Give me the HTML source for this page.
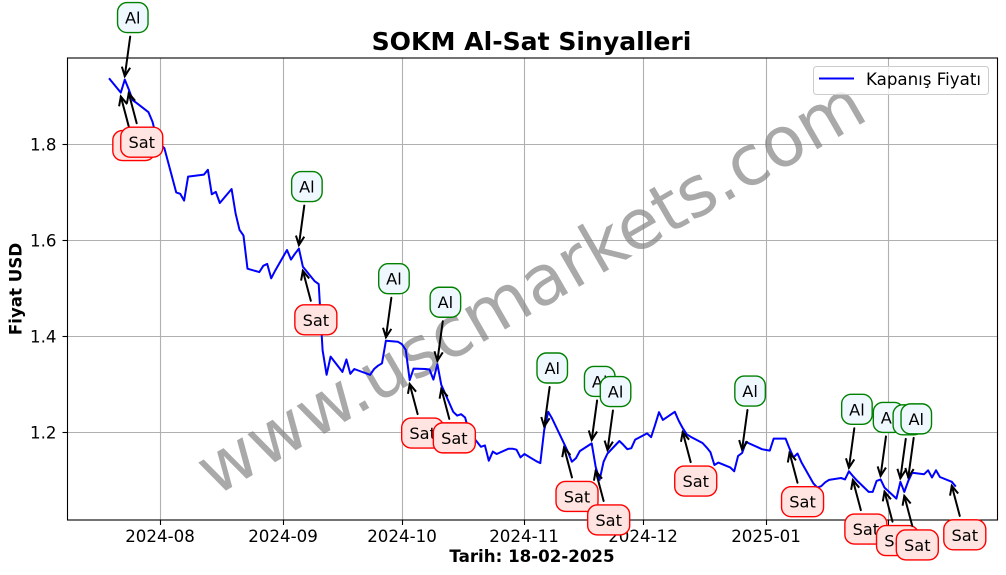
<!DOCTYPE html>
<html lang="tr">
<head>
<meta charset="utf-8">
<title>SOKM Al-Sat Sinyalleri</title>
<style>
html,body{margin:0;padding:0;background:#fff;width:1006px;height:575px;overflow:hidden}
svg{display:block;font-family:"DejaVu Sans","Liberation Sans",sans-serif}
</style>
</head>
<body>
<svg id="chart" width="1006" height="575" viewBox="0 0 1006 575" xmlns="http://www.w3.org/2000/svg">
  <rect x="0" y="0" width="1006" height="575" fill="#fff"/>
  <g id="grid"></g>
  <text x="530.5" y="311" transform="rotate(-30 530.5 287)" text-anchor="middle" font-size="69.4" fill="#808080" fill-opacity="0.68">www.uscmarkets.com</text>
  <polyline id="price-line" fill="none" stroke="#0000ff" stroke-width="2" stroke-linejoin="round"/>
  <g id="axes"></g>
  <text x="531.5" y="50" text-anchor="middle" font-size="25.1" font-weight="700" fill="#000">SOKM Al-Sat Sinyalleri</text>
  <text x="532" y="562" text-anchor="middle" font-size="16.67" font-weight="700" fill="#000">Tarih: 18-02-2025</text>
  <text transform="translate(21.5 289) rotate(-90)" text-anchor="middle" font-size="16.67" font-weight="700" fill="#000">Fiyat USD</text>
  <g>
    <rect x="813.5" y="66.5" width="175" height="28" rx="3" fill="#fff" fill-opacity="0.8" stroke="#cccccc" stroke-width="1"/>
    <line x1="819" x2="854" y1="78.5" y2="78.5" stroke="#0000ff" stroke-width="2"/>
    <text x="866" y="85" font-size="16.67" fill="#000">Kapanış Fiyatı</text>
  </g>
  <g id="signals"></g>
</svg>
<script>
const dates = [
"2024-07-19","2024-07-22","2024-07-23","2024-07-24","2024-07-25","2024-07-26","2024-07-29","2024-07-30","2024-07-31",
"2024-08-01","2024-08-02","2024-08-05","2024-08-06","2024-08-07","2024-08-08","2024-08-09","2024-08-12","2024-08-13","2024-08-14","2024-08-15","2024-08-16","2024-08-19","2024-08-20","2024-08-21","2024-08-22","2024-08-23","2024-08-26","2024-08-27","2024-08-28","2024-08-29","2024-08-30",
"2024-09-02","2024-09-03","2024-09-04","2024-09-05","2024-09-06","2024-09-09","2024-09-10","2024-09-11","2024-09-12","2024-09-13","2024-09-16","2024-09-17","2024-09-18","2024-09-19","2024-09-20","2024-09-23","2024-09-24","2024-09-25","2024-09-26","2024-09-27","2024-09-30",
"2024-10-01","2024-10-02","2024-10-03","2024-10-04","2024-10-07","2024-10-08","2024-10-09","2024-10-10","2024-10-11","2024-10-14","2024-10-15","2024-10-16","2024-10-17","2024-10-18","2024-10-21","2024-10-22","2024-10-23","2024-10-24","2024-10-25","2024-10-28","2024-10-29","2024-10-30","2024-10-31",
"2024-11-01","2024-11-04","2024-11-05","2024-11-06","2024-11-07","2024-11-08","2024-11-11","2024-11-12","2024-11-13","2024-11-14","2024-11-15","2024-11-18","2024-11-19","2024-11-20","2024-11-21","2024-11-22","2024-11-25","2024-11-26","2024-11-27","2024-11-28","2024-11-29",
"2024-12-02","2024-12-03","2024-12-04","2024-12-05","2024-12-06","2024-12-09","2024-12-10","2024-12-11","2024-12-12","2024-12-13","2024-12-16","2024-12-17","2024-12-18","2024-12-19","2024-12-20","2024-12-23","2024-12-24","2024-12-25","2024-12-26","2024-12-27","2024-12-30","2024-12-31",
"2025-01-02","2025-01-03","2025-01-06","2025-01-07","2025-01-08","2025-01-09","2025-01-10","2025-01-13","2025-01-14","2025-01-15","2025-01-16","2025-01-17","2025-01-20","2025-01-21","2025-01-22","2025-01-23","2025-01-24","2025-01-27","2025-01-28","2025-01-29","2025-01-30","2025-01-31",
"2025-02-03","2025-02-04","2025-02-05","2025-02-06","2025-02-07","2025-02-10","2025-02-11","2025-02-12","2025-02-13","2025-02-14","2025-02-17","2025-02-18"
];
const closes = [
1.938,1.908,1.935,1.915,1.892,1.886,1.867,1.847,1.815,
1.800,1.792,1.700,1.697,1.683,1.733,1.734,1.737,1.747,1.696,1.701,1.678,1.707,1.656,1.622,1.610,1.541,1.534,1.547,1.551,1.521,1.537,
1.580,1.560,1.572,1.583,1.545,1.515,1.509,1.371,1.320,1.358,1.326,1.352,1.322,1.332,1.329,1.320,1.332,1.339,1.344,1.391,1.389,
1.384,1.372,1.309,1.333,1.332,1.331,1.310,1.342,1.299,1.243,1.235,1.238,1.231,1.201,1.170,1.173,1.141,1.160,1.155,1.166,1.166,1.164,1.148,
1.155,1.140,1.136,1.205,1.243,1.229,1.177,1.159,1.139,1.146,1.161,1.177,1.128,1.101,1.139,1.156,1.182,1.174,1.165,1.167,1.185,
1.198,1.190,1.215,1.242,1.226,1.243,1.224,1.209,1.196,1.191,1.178,1.169,1.159,1.132,1.137,1.127,1.119,1.151,1.157,1.180,1.169,1.165,
1.162,1.187,1.187,1.166,1.148,1.156,1.138,1.094,1.085,1.088,1.096,1.101,1.105,1.102,1.119,1.109,1.100,1.076,1.076,1.099,1.102,1.085,
1.062,1.097,1.076,1.099,1.116,1.113,1.121,1.106,1.121,1.107,1.097,1.087
];
const buyDates = ["2024-07-23","2024-09-05","2024-09-27","2024-10-10","2024-11-06","2024-11-18","2024-11-22","2024-12-26","2025-01-22","2025-01-30","2025-02-04","2025-02-06"];
const sellDates = ["2024-07-22","2024-07-24","2024-09-06","2024-10-03","2024-10-11","2024-11-11","2024-11-19","2024-12-11","2025-01-07","2025-01-23","2025-01-31","2025-02-05","2025-02-17"];
const xTickDates = ["2024-08-01","2024-09-01","2024-10-01","2024-11-01","2024-12-01","2025-01-01","2025-02-01"];
const xTickLabels = ["2024-08","2024-09","2024-10","2024-11","2024-12","2025-01","2025-02"];
const yTickValues = [1.2,1.4,1.6,1.8];
const yTickLabels = ["1.2","1.4","1.6","1.8"];
const buyLabel = "Al";
const sellLabel = "Sat";

const NS = "http://www.w3.org/2000/svg";
const plot = {left:67.5,right:997.5,top:58,bottom:520};
const DAY = 86400000;
const originDate = Date.UTC(2024,7,1);
function xScale(d){
  const p = d.split("-").map(Number);
  return 160.4 + 3.957 * (Date.UTC(p[0],p[1]-1,p[2]) - originDate) / DAY;
}
function yScale(v){
  return 144.4 + (1.8 - v) * 480;
}
function make(tag, attrs, parent){
  const el = document.createElementNS(NS, tag);
  for (const k in attrs) el.setAttribute(k, attrs[k]);
  parent.appendChild(el);
  return el;
}
function valueAt(d){
  return closes[dates.indexOf(d)];
}

const gridG = document.getElementById("grid");
const axesG = document.getElementById("axes");
const signalsG = document.getElementById("signals");

xTickDates.forEach(function(d,i){
  const x = Math.round(xScale(d)) + 0.5;
  const g = make("line",{x1:x,x2:x,y1:plot.top,y2:plot.bottom,stroke:"#b0b0b0","stroke-width":1.1},gridG);
  
  
  const t = make("line",{x1:x,x2:x,y1:plot.bottom,y2:plot.bottom+5,stroke:"#000","stroke-width":1.1},axesG);
  
  
  const l = make("text",{x:x-0.5,y:542,"text-anchor":"middle","font-size":16.67,fill:"#000"},axesG);
  
  
  l.textContent = xTickLabels[i];
});
yTickValues.forEach(function(v,i){
  const y = Math.round(yScale(v)) + 0.5;
  const g = make("line",{x1:plot.left,x2:plot.right,y1:y,y2:y,stroke:"#b0b0b0","stroke-width":1.1},gridG);
  
  
  const t = make("line",{x1:plot.left-5,x2:plot.left,y1:y,y2:y,stroke:"#000","stroke-width":1.1},axesG);
  
  
  const l = make("text",{x:56.5,y:y+6,"text-anchor":"end","font-size":16.67,fill:"#000"},axesG);
  
  
  l.textContent = yTickLabels[i];
});
const frame = make("rect",{x:plot.left,y:plot.top,width:plot.right-plot.left,height:plot.bottom-plot.top,fill:"none",stroke:"#000","stroke-width":1.1},axesG);



document.getElementById("price-line").setAttribute("points",
  dates.map(function(d,i){ return xScale(d).toFixed(1)+","+yScale(closes[i]).toFixed(1); }).join(" "));

function drawSignal(d, label, cfg){
  const px = xScale(d), py = yScale(valueAt(d));
  const cx = px + cfg.dx, cy = py + cfg.dy;
  const tx = px, ty = py + cfg.tipDy;
  const len = Math.hypot(tx-cx, ty-cy);
  const ux = (tx-cx)/len, uy = (ty-cy)/len;
  const start = 19 / Math.abs(uy);
  const sx = cx + ux*start, sy = cy + uy*start;
  const g = make("g",{},signalsG);
  
  
  const shaft = make("line",{x1:sx,y1:sy,x2:tx,y2:ty,stroke:"#000","stroke-width":2,"stroke-linecap":"round"},g);
  
  
  const hl = 9, hw = 4.2;
  const head = make("polyline",{points:
    (tx-ux*hl-uy*hw)+","+(ty-uy*hl+ux*hw)+" "+tx+","+ty+" "+(tx-ux*hl+uy*hw)+","+(ty-uy*hl-ux*hw),
    fill:"none",stroke:"#000","stroke-width":2,"stroke-linejoin":"miter"},g);
  
  
  const box = make("rect",{x:cx-cfg.w/2,y:cy-cfg.h/2,width:cfg.w,height:cfg.h,rx:9.5,ry:9.5,fill:cfg.fill,stroke:cfg.stroke,"stroke-width":1.4},g);
  
  
  const t = make("text",{x:cx,y:cy+6,"text-anchor":"middle","font-size":16.2,fill:"#000"},g);
  
  
  t.textContent = label;
}
const buyCfg = {dx:8,dy:-62,tipDy:-3.5,w:30.5,h:30,fill:"#f0f8ff",stroke:"#008000",name:"buy-signal"};
const sellCfg = {dx:13,dy:53,tipDy:4,w:42,h:30,fill:"#ffe4e1",stroke:"#ff0000",name:"sell-signal"};
buyDates.forEach(function(d){ drawSignal(d,buyLabel,buyCfg); });
sellDates.forEach(function(d){ drawSignal(d,sellLabel,sellCfg); });
</script>
</body>
</html>
